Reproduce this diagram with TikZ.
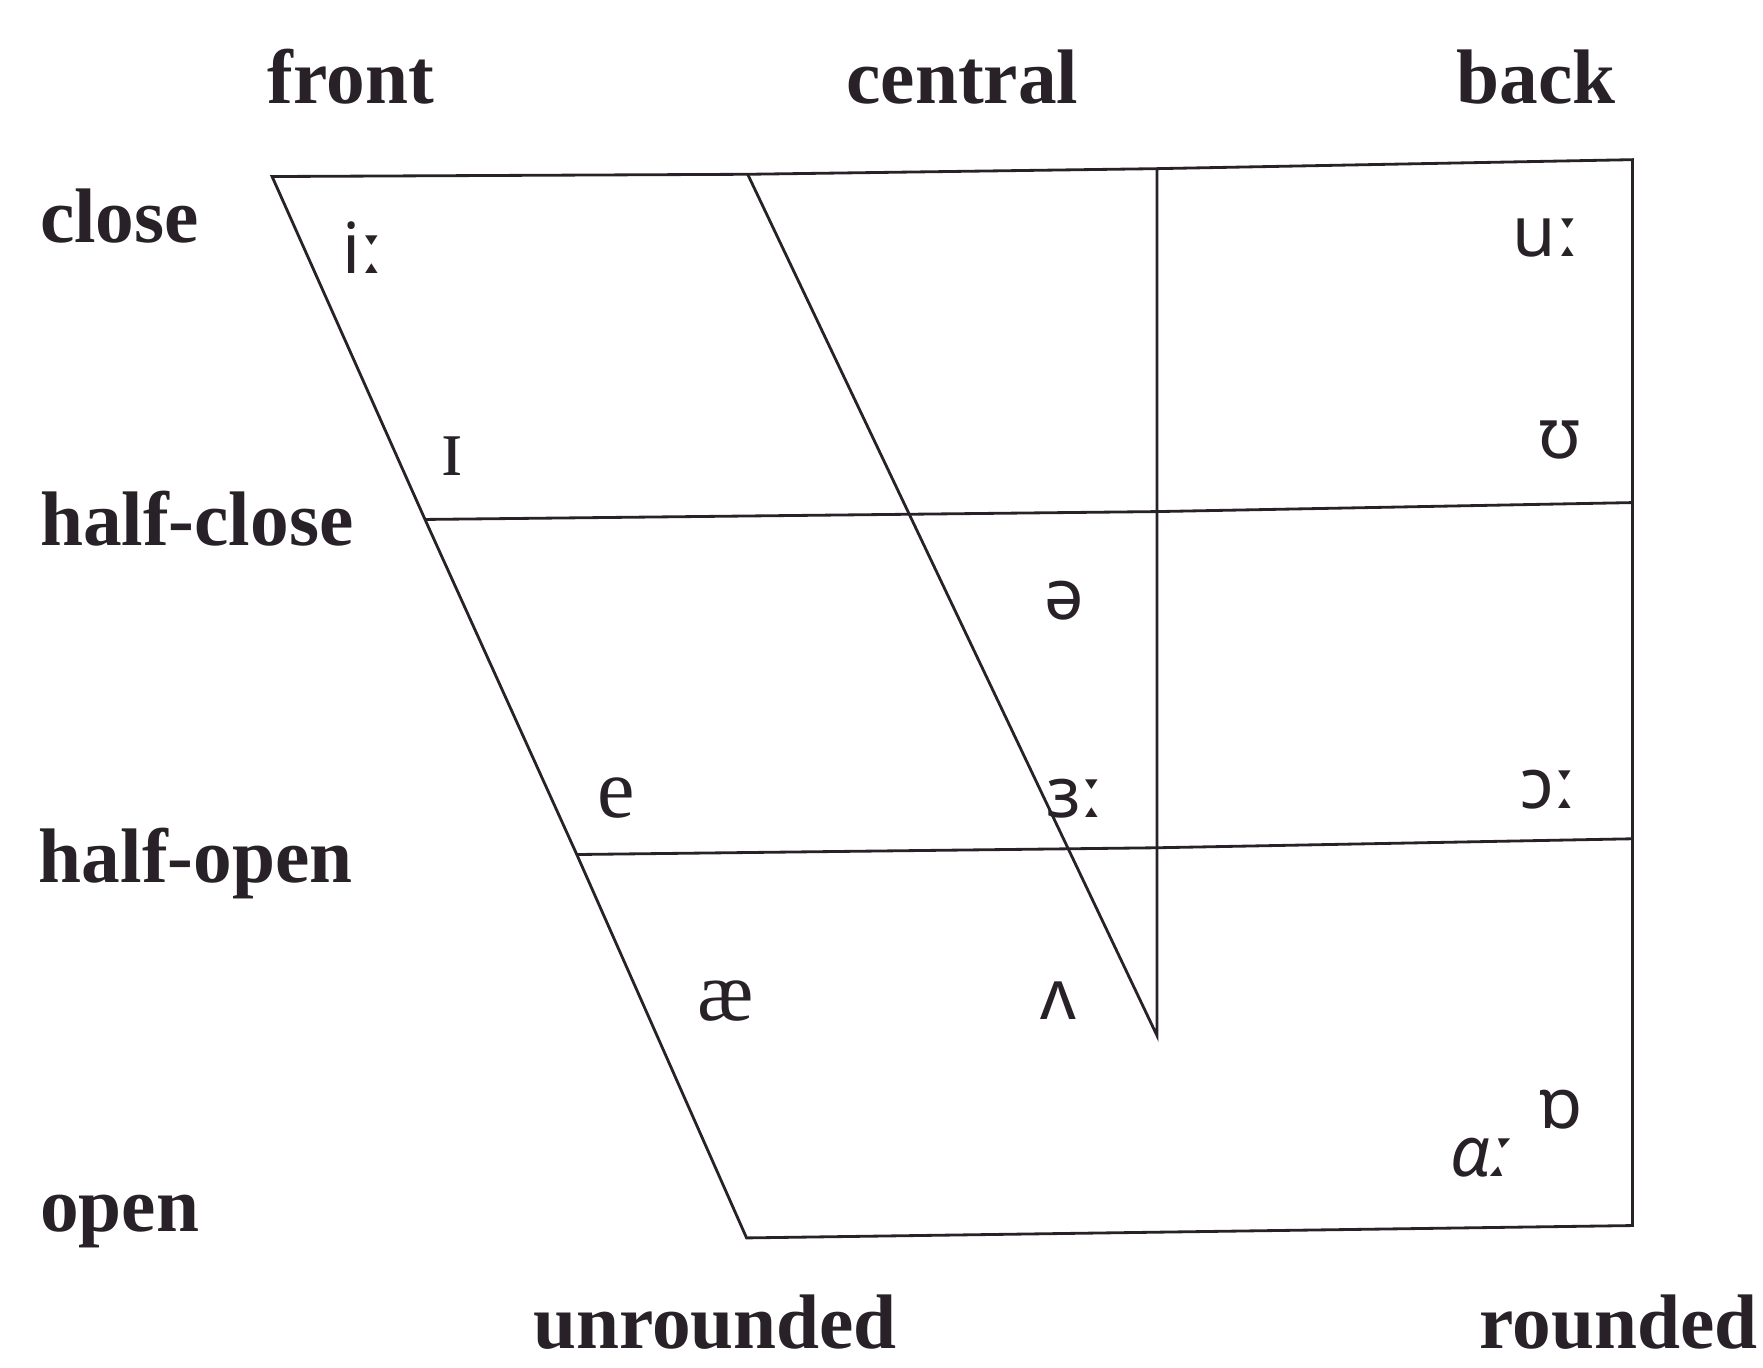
\documentclass[tikz,border=0pt]{standalone}
\usepackage{fontspec}
\setmainfont{Liberation Serif}
\newfontfamily\ipasans{Noto Sans}
\newfontfamily\ipaserif{Liberation Serif}
\definecolor{ink}{RGB}{40,34,40}
\tikzset{
  lbl/.style={font=\bfseries\fontsize{22}{24}\selectfont,text=ink,inner sep=0pt},
  vow/.style={font=\ipasans\fontsize{20}{22}\selectfont,text=ink,inner sep=0pt},
  vowser/.style={font=\ipaserif\fontsize{24}{26}\selectfont,text=ink,inner sep=0pt},
  chart/.style={draw=ink,line width=0.8pt},
}

\begin{document}
\begin{tikzpicture}[x=0.011244cm,y=-0.011244cm]
  \useasboundingbox (0,0) rectangle (1568,1216);
  % corners of the chart
  \coordinate (tl) at (242,157);
  \coordinate (tc) at (665,155);
  \coordinate (tv) at (1029,150);
  \coordinate (tr) at (1452,142);
  \coordinate (hcl) at (378,462);
  \coordinate (hcv) at (1029,455);
  \coordinate (hcr) at (1452,447);
  \coordinate (hol) at (513,760);
  \coordinate (hov) at (1029,754);
  \coordinate (hor) at (1452,746);
  \coordinate (bl) at (664,1101);
  \coordinate (br) at (1452,1090);
  \coordinate (tip) at (1029,921);

  \draw[chart] (tl) -- (tc) -- (tv) -- (tr) -- (hcr) -- (hor) -- (br) -- (bl)
    -- (hol) -- (hcl) -- cycle;
  \draw[chart] (tc) -- (tip) -- (hov) -- (hcv) -- (tv);
  \draw[chart] (hcl) -- (hcv) -- (hcr);
  \draw[chart] (hol) -- (hov) -- (hor);

  % axis labels
  \node[lbl,anchor=base] (front) at (312,92) {front};
  \node[lbl,anchor=base] (central) at (856,92) {central};
  \node[lbl,anchor=base] (back) at (1366,92) {back};
  \node[lbl,anchor=base west] (close) at (35,216) {close};
  \node[lbl,anchor=base west] (halfclose) at (35,485) {half-close};
  \node[lbl,anchor=base west] (halfopen) at (34,785) {half-open};
  \node[lbl,anchor=base west] (open) at (35,1095) {open};
  \node[lbl,anchor=base] (unrounded) at (636,1199) {unrounded};
  \node[lbl,anchor=base east] (rounded) at (1564,1199) {rounded};

  % vowels
  \node[vow] (iy) at (323,220) {iː};
  \node[vowser] (ih) at (402,406) {ɪ};
  \node[vowser] (eh) at (548,710) {e};
  \node[vowser] (ae) at (645,890) {æ};
  \node[vow] (schwa) at (947,534) {ə};
  \node[vow] (er) at (956,710) {ɜː};
  \node[vow] (ah) at (941,890) {ʌ};
  \node[vow] (uu) at (1375,212) {uː};
  \node[vow] (uh) at (1387,391) {ʊ};
  \node[vow] (aw) at (1377,702) {ɔː};
  \node[vow] (oh) at (1388,987) {ɒ};
  \node[vow,font=\ipasans\itshape\fontsize{20}{22}\selectfont] (aa) at (1317,1030) {ɑː};
\end{tikzpicture}
\end{document}
